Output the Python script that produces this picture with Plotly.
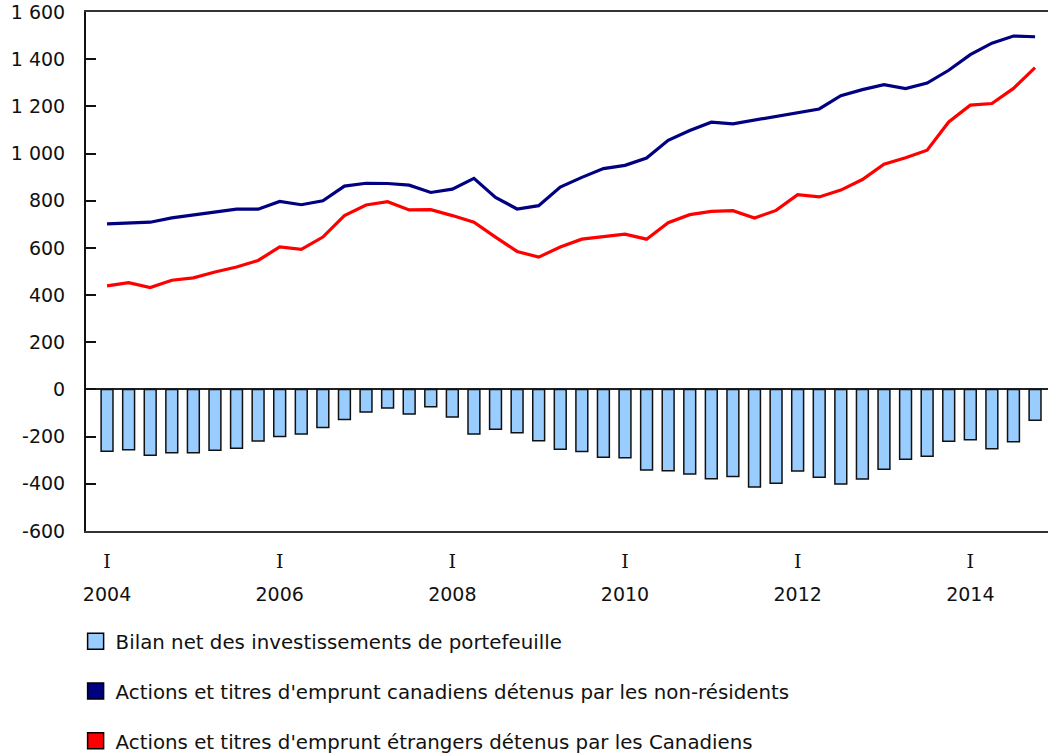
import plotly.graph_objects as go

years = list(range(2004, 2015))
quarters = [f"{y}-T{q}" for y in years for q in (1, 2, 3, 4)]

# Actions et titres d'emprunt canadiens détenus par les non-résidents
canadiens = [702, 707, 709, 727, 740, 754, 764, 764, 797, 783, 800, 862,
             874, 873, 866, 835, 849, 895, 814, 765, 779, 858,
             899, 936, 950, 981, 1056, 1098, 1133, 1126, 1141, 1159,
             1173, 1189, 1245, 1271, 1292, 1275, 1299, 1353, 1419, 1468,
             1498, 1495]
# Actions et titres d'emprunt étrangers détenus par les Canadiens
etrangers = [439, 453, 432, 463, 473, 498, 519, 547, 604, 594, 646, 737,
             782, 796, 761, 762, 737, 709, 646, 585, 561, 604,
             637, 646, 658, 637, 707, 741, 755, 758, 727, 759,
             826, 816, 845, 890, 955, 982, 1014, 1134, 1205, 1212,
             1276, 1364]
# Bilan net des investissements de portefeuille
bilan = [-262, -256, -279, -268, -268, -258, -249, -218, -199, -189, -161, -127,
         -96, -79, -104, -73, -117, -189, -169, -183, -217, -253,
         -263, -287, -289, -341, -345, -358, -379, -369, -413, -398,
         -346, -372, -401, -380, -338, -296, -283, -220, -213, -251,
         -222, -131]

y_tickvals = [-600, -400, -200, 0, 200, 400, 600, 800, 1000, 1200, 1400, 1600]
y_ticktext = ["-600", "-400", "-200", "0", "200", "400", "600", "800",
              "1 000", "1 200", "1 400", "1 600"]
x_tick_quarters = ["2004-T1", "2006-T1", "2008-T1", "2010-T1", "2012-T1", "2014-T1"]
x_tick_index = [0, 8, 16, 24, 32, 40]
x_tick_q = ["I"] * 6
x_tick_years = ["2004", "2006", "2008", "2010", "2012", "2014"]

names = ["Bilan net des investissements de portefeuille",
         "Actions et titres d'emprunt canadiens détenus par les non-résidents",
         "Actions et titres d'emprunt étrangers détenus par les Canadiens"]
col_bar = "#99CCFF"
col_navy = "#000080"
col_red = "#FF0000"

FONT = "DejaVu Sans"
TXT = "#111111"
fig = go.Figure()
fig.add_trace(go.Bar(x=quarters, y=bilan, width=0.55, marker=dict(color=col_bar, line=dict(color="#111111", width=1.5)),
                     showlegend=False))
fig.add_trace(go.Scatter(x=quarters, y=canadiens, mode="lines", line=dict(color=col_navy, width=3.2), showlegend=False))
fig.add_trace(go.Scatter(x=quarters, y=etrangers, mode="lines", line=dict(color=col_red, width=3.2), showlegend=False))

for i, (nm, c) in enumerate(zip(names, [col_bar, col_navy, col_red])):
    fig.add_trace(go.Scatter(x=[None], y=[None], mode="markers", name=nm, legendgroup=f"g{i}",
                             marker=dict(symbol="square", size=20, color=c, line=dict(color="#000000", width=1.5))))

xr = [-0.975, 43.6]
fig.update_layout(
    width=1048, height=755,
    margin=dict(l=86, r=0, t=12, b=224, autoexpand=False),
    plot_bgcolor="white", paper_bgcolor="white",
    font=dict(family=FONT, size=19, color=TXT),
    showlegend=True,
    legend=dict(x=-0.0108, xanchor="left", y=-0.1753, yanchor="top", tracegroupgap=21,
                font=dict(family=FONT, size=19.8, color=TXT), bgcolor="rgba(0,0,0,0)"),
    xaxis=dict(type="category", categoryorder="array", categoryarray=quarters, range=xr,
               showline=True, linecolor="#333333", linewidth=2, mirror=True,
               tickmode="array", tickvals=x_tick_quarters, ticktext=x_tick_q, ticks="",
               tickfont=dict(family="DejaVu Serif", size=19), ticklabelstandoff=12, showgrid=False),
    xaxis2=dict(overlaying="x", anchor="y", side="bottom", range=xr, type="linear",
                tickmode="array", tickvals=x_tick_index, ticktext=x_tick_years, ticks="",
                showline=False, showgrid=False, zeroline=False,
                tickfont=dict(family=FONT, size=19), ticklabelstandoff=50),
    yaxis=dict(range=[-600, 1600], tickmode="array", tickvals=y_tickvals, ticktext=y_ticktext,
               showline=True, linecolor="#111111", linewidth=2, ticks="inside", ticklen=10,
               tickwidth=2, tickcolor="#111111", ticklabelstandoff=15, showgrid=False,
               ticklabeloverflow="allow",
               zeroline=True, zerolinecolor="#222222", zerolinewidth=2),
)
fig.add_trace(go.Scatter(x=[None], y=[None], xaxis="x2", showlegend=False))
fig.write_html("out.html", config={"displayModeBar": False},
               post_script="document.body.style.margin='0';")
